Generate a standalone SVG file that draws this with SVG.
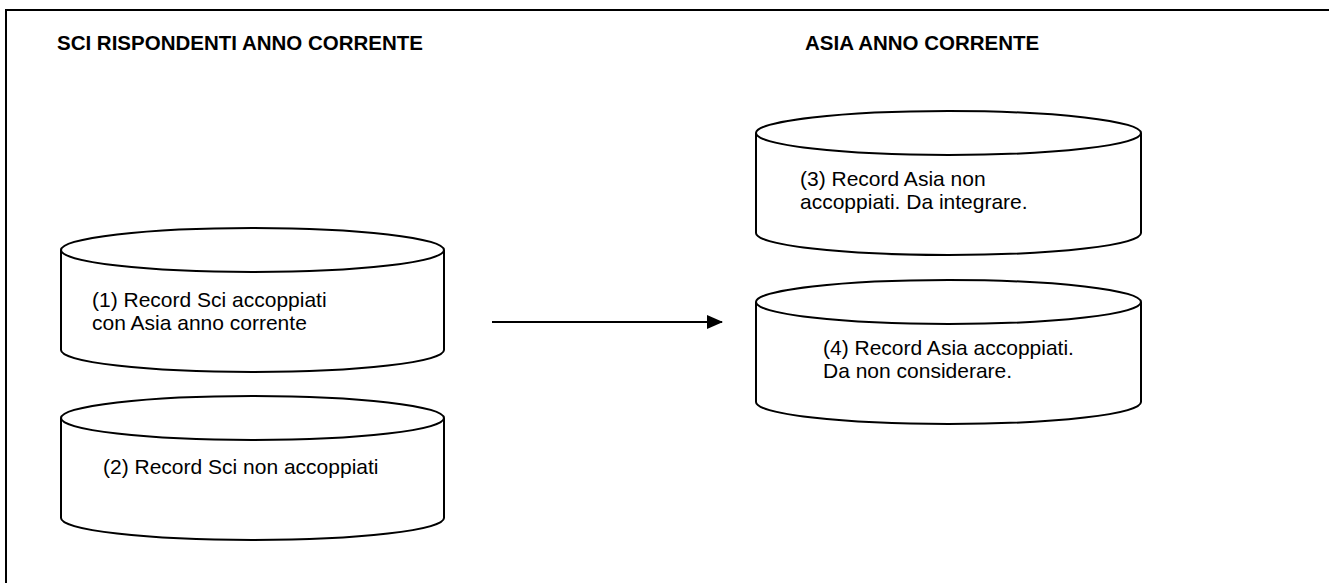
<svg xmlns="http://www.w3.org/2000/svg" width="1329" height="583" viewBox="0 0 1329 583">
  <style>
    .frame { fill: none; stroke: #000; stroke-width: 2; }
    .cyl { fill: #fff; stroke: #000; stroke-width: 2; stroke-linejoin: round; }
    .title { font-family: "Liberation Sans", Arial, sans-serif; font-weight: bold; font-size: 20.5px; fill: #000; }
    .label { font-family: "Liberation Sans", Arial, sans-serif; font-size: 21px; fill: #000; }
    .link { stroke: #000; stroke-width: 2; fill: none; }
  </style>
  <defs>
    <marker id="arrow" markerWidth="8" markerHeight="7" refX="7.5" refY="3.5" orient="auto" markerUnits="strokeWidth">
      <path d="M0,0 L8,3.5 L0,7 Z" fill="#000"/>
    </marker>
  </defs>

  <rect width="1329" height="583" fill="#fff"/>

  <!-- outer frame: only top and left edges fall inside the page -->
  <path class="frame" d="M6,583 V10 H1329"/>

  <!-- section headings -->
  <text class="title" x="57" y="50">SCI RISPONDENTI ANNO CORRENTE</text>
  <text class="title" x="805" y="50">ASIA ANNO CORRENTE</text>

  <!-- Sci store: matched records -->
  <g id="sci-accoppiati">
    <path class="cyl" d="M61,250 V350 A191.5,22 0 0 0 444,350 V250"/>
    <ellipse class="cyl" cx="252.5" cy="250" rx="191.5" ry="22"/>
    <text class="label" x="92" y="307">(1) Record Sci accoppiati</text>
    <text class="label" x="92" y="330">con Asia anno corrente</text>
  </g>

  <!-- Sci store: unmatched records -->
  <g id="sci-non-accoppiati">
    <path class="cyl" d="M61,418 V518 A191.5,22 0 0 0 444,518 V418"/>
    <ellipse class="cyl" cx="252.5" cy="418" rx="191.5" ry="22"/>
    <text class="label" x="103" y="474">(2) Record Sci non accoppiati</text>
  </g>

  <!-- Asia store: unmatched records -->
  <g id="asia-non-accoppiati">
    <path class="cyl" d="M756,133 V233 A192.5,22 0 0 0 1141,233 V133"/>
    <ellipse class="cyl" cx="948.5" cy="133" rx="192.5" ry="22"/>
    <text class="label" x="800" y="186">(3) Record Asia non</text>
    <text class="label" x="800" y="209">accoppiati. Da integrare.</text>
  </g>

  <!-- Asia store: matched records -->
  <g id="asia-accoppiati">
    <path class="cyl" d="M756,302 V402 A192.5,22 0 0 0 1141,402 V302"/>
    <ellipse class="cyl" cx="948.5" cy="302" rx="192.5" ry="22"/>
    <text class="label" x="823" y="355">(4) Record Asia accoppiati.</text>
    <text class="label" x="823" y="378">Da non considerare.</text>
  </g>

  <g id="connectors">
    <line class="link" x1="492" y1="322" x2="722" y2="322" marker-end="url(#arrow)"/>
  </g>
</svg>
